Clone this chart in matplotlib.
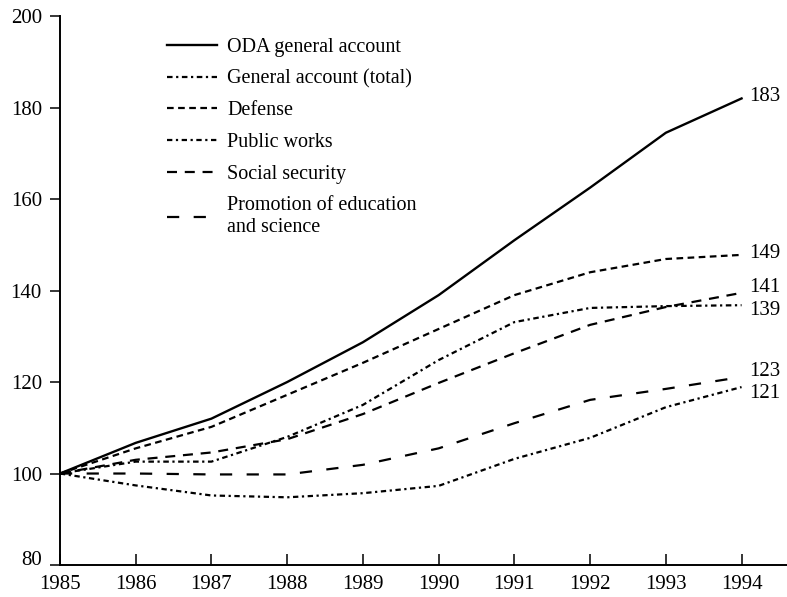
import matplotlib
matplotlib.use("Agg")
import matplotlib.pyplot as plt

years = [1985, 1986, 1987, 1988, 1989, 1990, 1991, 1992, 1993, 1994]
oda = [100, 106.7, 112, 120, 128.7, 139, 151, 162.5, 174.5, 182]
general = [100, 102.6, 102.6, 108, 115, 124.8, 133.1, 136.2, 136.6, 136.8]
defense = [100, 105.5, 110.2, 117.2, 124.2, 131.6, 139, 144, 146.9, 147.8]
public_works = [100, 97.4, 95.2, 94.8, 95.7, 97.3, 103.2, 107.8, 114.5, 118.9]
social_security = [100, 103, 104.6, 107.5, 113, 119.8, 126.3, 132.5, 136.4, 139.5]
education = [100, 100, 99.8, 99.8, 101.9, 105.5, 111, 116.1, 118.5, 121.1]

end_labels = ["183", "139", "149", "121", "141", "123"]
label_names = ["ODA general account", "General account (total)", "Defense",
               "Public works", "Social security",
               "Promotion of education\nand science"]
yticks = [80, 100, 120, 140, 160, 180, 200]

plt.rcParams['font.family'] = ['Liberation Serif', 'DejaVu Serif']

fig = plt.figure(figsize=(7.87, 5.97), dpi=100)
ax = fig.add_axes([0.0762, 0.0536, 0.9238, 0.9194])

series = [oda, general, defense, public_works, social_security, education]
styles = [
    dict(linestyle='-', lw=1.7),
    dict(linestyle=(0, (2.5, 1.6, 1.0, 1.6)), lw=1.6),
    dict(linestyle=(0, (3.0, 2.0)), lw=1.6),
    dict(linestyle=(0, (2.4, 1.6, 1.0, 1.6)), lw=1.6),
    dict(linestyle=(0, (4.5, 3.5)), lw=1.6),
    dict(linestyle=(0, (5.5, 6.5)), lw=1.6),
]

for vals, name, st in zip(series, label_names, styles):
    ax.plot(years, vals, color='black', label=name, **st)

# end value labels
offsets = [0.5, -1.2, 0.4, -1.4, 1.2, 1.2]
for vals, lab, off in zip(series, end_labels, offsets):
    ax.text(years[-1] + 0.1, vals[-1] + off, lab, fontsize=15,
            va='center', ha='left')

ax.set_xlim(1985, 1994.6)
ax.set_ylim(80, 200)
ax.set_xticks(years)
ax.set_yticks(yticks)
ax.tick_params(axis='x', direction='in', length=8, width=1.1, labelsize=15, pad=7)
ax.tick_params(axis='y', direction='out', length=7, width=1.1, labelsize=15, pad=6)
for s in ['top', 'right']:
    ax.spines[s].set_visible(False)
ax.spines['left'].set_linewidth(1.4)
ax.spines['bottom'].set_linewidth(1.4)
for lab in ax.get_yticklabels():
    if lab.get_text() == '80':
        lab.set_va('baseline')

leg = ax.legend(loc='upper left', bbox_to_anchor=(0.13, 0.982), frameon=False,
                fontsize=14.5, handlelength=2.5, handletextpad=0.5,
                labelspacing=0.62, borderaxespad=0.2)

fig.savefig('out.png', dpi=100)
